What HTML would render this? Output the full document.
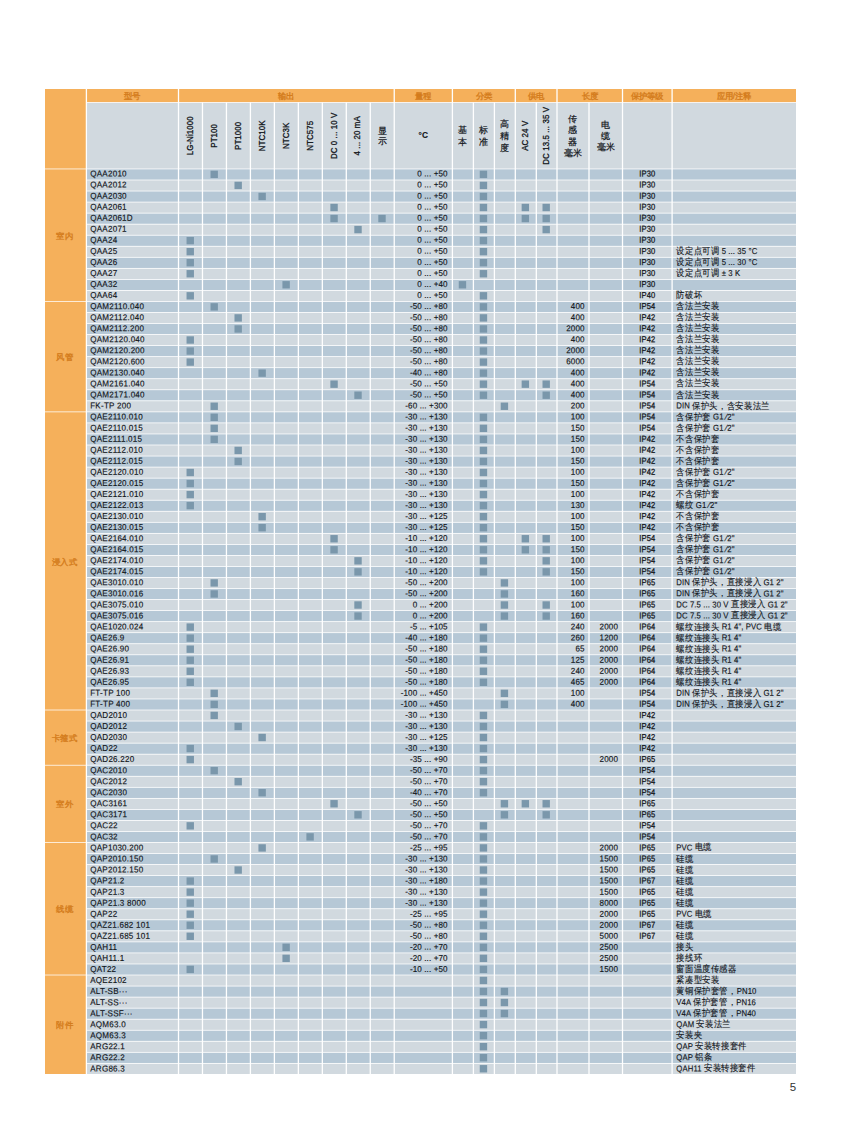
<!DOCTYPE html>
<html lang="zh"><head><meta charset="utf-8"><title>Sensor selection table</title>
<style>
html,body{margin:0;padding:0;background:#fff}
body{width:841px;height:1122px;overflow:hidden;font-family:"Liberation Sans",sans-serif}
svg{display:block;position:absolute;left:0;top:0}
text{font-family:"Liberation Sans",sans-serif;font-size:8.6px;fill:#11151a;stroke:#11151a;stroke-width:.14px;letter-spacing:.12px}
.m{letter-spacing:.25px}
.r{text-anchor:end}
.c{text-anchor:middle}
.b{font-weight:bold}
.i{stroke-width:.25px}
.n{white-space:pre}
.z{font-family:"Liberation Serif",serif;font-size:9.2px;stroke-width:.12px}
.h{fill:#d47c1c;stroke:#d47c1c;stroke-width:.35px;font-size:8.4px;text-anchor:middle;letter-spacing:.1px}
.v{font-size:8.3px;text-anchor:middle;stroke-width:.3px}
.k{font-family:"Liberation Serif",serif;font-size:8.6px;text-anchor:middle;stroke-width:.2px}
.pg{font-size:11.5px;fill:#333;stroke:none;text-anchor:end}
</style></head><body>
<svg width="841" height="1122" viewBox="0 0 841 1122">
<rect x="45" y="89" width="751" height="13.5" fill="#f5b05b"/>
<rect x="45" y="89" width="41.4" height="984.99" fill="#f5b05b"/>
<rect x="86.4" y="102.5" width="709.6" height="66.45" fill="#d1d9df"/>
<rect x="86.4" y="168.95" width="709.6" height="11.04" fill="#b6c8d6"/>
<rect x="86.4" y="179.99" width="709.6" height="11.04" fill="#d1d9df"/>
<rect x="86.4" y="191.03" width="709.6" height="11.04" fill="#b6c8d6"/>
<rect x="86.4" y="202.08" width="709.6" height="11.04" fill="#d1d9df"/>
<rect x="86.4" y="213.12" width="709.6" height="11.04" fill="#b6c8d6"/>
<rect x="86.4" y="224.16" width="709.6" height="11.04" fill="#d1d9df"/>
<rect x="86.4" y="235.2" width="709.6" height="11.04" fill="#b6c8d6"/>
<rect x="86.4" y="246.24" width="709.6" height="11.04" fill="#d1d9df"/>
<rect x="86.4" y="257.29" width="709.6" height="11.04" fill="#b6c8d6"/>
<rect x="86.4" y="268.33" width="709.6" height="11.04" fill="#d1d9df"/>
<rect x="86.4" y="279.37" width="709.6" height="11.04" fill="#b6c8d6"/>
<rect x="86.4" y="290.41" width="709.6" height="11.04" fill="#d1d9df"/>
<rect x="86.4" y="301.45" width="709.6" height="11.04" fill="#b6c8d6"/>
<rect x="86.4" y="312.5" width="709.6" height="11.04" fill="#d1d9df"/>
<rect x="86.4" y="323.54" width="709.6" height="11.04" fill="#b6c8d6"/>
<rect x="86.4" y="334.58" width="709.6" height="11.04" fill="#d1d9df"/>
<rect x="86.4" y="345.62" width="709.6" height="11.04" fill="#b6c8d6"/>
<rect x="86.4" y="356.66" width="709.6" height="11.04" fill="#d1d9df"/>
<rect x="86.4" y="367.71" width="709.6" height="11.04" fill="#b6c8d6"/>
<rect x="86.4" y="378.75" width="709.6" height="11.04" fill="#d1d9df"/>
<rect x="86.4" y="389.79" width="709.6" height="11.04" fill="#b6c8d6"/>
<rect x="86.4" y="400.83" width="709.6" height="11.04" fill="#d1d9df"/>
<rect x="86.4" y="411.87" width="709.6" height="11.04" fill="#b6c8d6"/>
<rect x="86.4" y="422.92" width="709.6" height="11.04" fill="#d1d9df"/>
<rect x="86.4" y="433.96" width="709.6" height="11.04" fill="#b6c8d6"/>
<rect x="86.4" y="445" width="709.6" height="11.04" fill="#d1d9df"/>
<rect x="86.4" y="456.04" width="709.6" height="11.04" fill="#b6c8d6"/>
<rect x="86.4" y="467.08" width="709.6" height="11.04" fill="#d1d9df"/>
<rect x="86.4" y="478.13" width="709.6" height="11.04" fill="#b6c8d6"/>
<rect x="86.4" y="489.17" width="709.6" height="11.04" fill="#d1d9df"/>
<rect x="86.4" y="500.21" width="709.6" height="11.04" fill="#b6c8d6"/>
<rect x="86.4" y="511.25" width="709.6" height="11.04" fill="#d1d9df"/>
<rect x="86.4" y="522.29" width="709.6" height="11.04" fill="#b6c8d6"/>
<rect x="86.4" y="533.34" width="709.6" height="11.04" fill="#d1d9df"/>
<rect x="86.4" y="544.38" width="709.6" height="11.04" fill="#b6c8d6"/>
<rect x="86.4" y="555.42" width="709.6" height="11.04" fill="#d1d9df"/>
<rect x="86.4" y="566.46" width="709.6" height="11.04" fill="#b6c8d6"/>
<rect x="86.4" y="577.5" width="709.6" height="11.04" fill="#d1d9df"/>
<rect x="86.4" y="588.55" width="709.6" height="11.04" fill="#b6c8d6"/>
<rect x="86.4" y="599.59" width="709.6" height="11.04" fill="#d1d9df"/>
<rect x="86.4" y="610.63" width="709.6" height="11.04" fill="#b6c8d6"/>
<rect x="86.4" y="621.67" width="709.6" height="11.04" fill="#d1d9df"/>
<rect x="86.4" y="632.71" width="709.6" height="11.04" fill="#b6c8d6"/>
<rect x="86.4" y="643.76" width="709.6" height="11.04" fill="#d1d9df"/>
<rect x="86.4" y="654.8" width="709.6" height="11.04" fill="#b6c8d6"/>
<rect x="86.4" y="665.84" width="709.6" height="11.04" fill="#d1d9df"/>
<rect x="86.4" y="676.88" width="709.6" height="11.04" fill="#b6c8d6"/>
<rect x="86.4" y="687.92" width="709.6" height="11.04" fill="#d1d9df"/>
<rect x="86.4" y="698.97" width="709.6" height="11.04" fill="#b6c8d6"/>
<rect x="86.4" y="710.01" width="709.6" height="11.04" fill="#d1d9df"/>
<rect x="86.4" y="721.05" width="709.6" height="11.04" fill="#b6c8d6"/>
<rect x="86.4" y="732.09" width="709.6" height="11.04" fill="#d1d9df"/>
<rect x="86.4" y="743.13" width="709.6" height="11.04" fill="#b6c8d6"/>
<rect x="86.4" y="754.18" width="709.6" height="11.04" fill="#d1d9df"/>
<rect x="86.4" y="765.22" width="709.6" height="11.04" fill="#b6c8d6"/>
<rect x="86.4" y="776.26" width="709.6" height="11.04" fill="#d1d9df"/>
<rect x="86.4" y="787.3" width="709.6" height="11.04" fill="#b6c8d6"/>
<rect x="86.4" y="798.34" width="709.6" height="11.04" fill="#d1d9df"/>
<rect x="86.4" y="809.39" width="709.6" height="11.04" fill="#b6c8d6"/>
<rect x="86.4" y="820.43" width="709.6" height="11.04" fill="#d1d9df"/>
<rect x="86.4" y="831.47" width="709.6" height="11.04" fill="#b6c8d6"/>
<rect x="86.4" y="842.51" width="709.6" height="11.04" fill="#d1d9df"/>
<rect x="86.4" y="853.55" width="709.6" height="11.04" fill="#b6c8d6"/>
<rect x="86.4" y="864.6" width="709.6" height="11.04" fill="#d1d9df"/>
<rect x="86.4" y="875.64" width="709.6" height="11.04" fill="#b6c8d6"/>
<rect x="86.4" y="886.68" width="709.6" height="11.04" fill="#d1d9df"/>
<rect x="86.4" y="897.72" width="709.6" height="11.04" fill="#b6c8d6"/>
<rect x="86.4" y="908.76" width="709.6" height="11.04" fill="#d1d9df"/>
<rect x="86.4" y="919.81" width="709.6" height="11.04" fill="#b6c8d6"/>
<rect x="86.4" y="930.85" width="709.6" height="11.04" fill="#d1d9df"/>
<rect x="86.4" y="941.89" width="709.6" height="11.04" fill="#b6c8d6"/>
<rect x="86.4" y="952.93" width="709.6" height="11.04" fill="#d1d9df"/>
<rect x="86.4" y="963.97" width="709.6" height="11.04" fill="#b6c8d6"/>
<rect x="86.4" y="975.02" width="709.6" height="11.04" fill="#d1d9df"/>
<rect x="86.4" y="986.06" width="709.6" height="11.04" fill="#b6c8d6"/>
<rect x="86.4" y="997.1" width="709.6" height="11.04" fill="#d1d9df"/>
<rect x="86.4" y="1008.14" width="709.6" height="11.04" fill="#b6c8d6"/>
<rect x="86.4" y="1019.18" width="709.6" height="11.04" fill="#d1d9df"/>
<rect x="86.4" y="1030.23" width="709.6" height="11.04" fill="#b6c8d6"/>
<rect x="86.4" y="1041.27" width="709.6" height="11.04" fill="#d1d9df"/>
<rect x="86.4" y="1052.31" width="709.6" height="11.04" fill="#b6c8d6"/>
<rect x="86.4" y="1063.35" width="709.6" height="10.64" fill="#d1d9df"/>
<g fill="#fff">
<rect x="86.4" y="102.15" width="709.6" height=".7"/>
<rect x="86.4" y="168.57" width="709.6" height=".75"/>
<rect x="86.4" y="179.62" width="709.6" height=".75"/>
<rect x="86.4" y="190.66" width="709.6" height=".75"/>
<rect x="86.4" y="201.7" width="709.6" height=".75"/>
<rect x="86.4" y="212.74" width="709.6" height=".75"/>
<rect x="86.4" y="223.78" width="709.6" height=".75"/>
<rect x="86.4" y="234.83" width="709.6" height=".75"/>
<rect x="86.4" y="245.87" width="709.6" height=".75"/>
<rect x="86.4" y="256.91" width="709.6" height=".75"/>
<rect x="86.4" y="267.95" width="709.6" height=".75"/>
<rect x="86.4" y="279" width="709.6" height=".75"/>
<rect x="86.4" y="290.04" width="709.6" height=".75"/>
<rect x="86.4" y="301.08" width="709.6" height=".75"/>
<rect x="86.4" y="312.12" width="709.6" height=".75"/>
<rect x="86.4" y="323.16" width="709.6" height=".75"/>
<rect x="86.4" y="334.2" width="709.6" height=".75"/>
<rect x="86.4" y="345.25" width="709.6" height=".75"/>
<rect x="86.4" y="356.29" width="709.6" height=".75"/>
<rect x="86.4" y="367.33" width="709.6" height=".75"/>
<rect x="86.4" y="378.37" width="709.6" height=".75"/>
<rect x="86.4" y="389.41" width="709.6" height=".75"/>
<rect x="86.4" y="400.46" width="709.6" height=".75"/>
<rect x="86.4" y="411.5" width="709.6" height=".75"/>
<rect x="86.4" y="422.54" width="709.6" height=".75"/>
<rect x="86.4" y="433.58" width="709.6" height=".75"/>
<rect x="86.4" y="444.62" width="709.6" height=".75"/>
<rect x="86.4" y="455.67" width="709.6" height=".75"/>
<rect x="86.4" y="466.71" width="709.6" height=".75"/>
<rect x="86.4" y="477.75" width="709.6" height=".75"/>
<rect x="86.4" y="488.79" width="709.6" height=".75"/>
<rect x="86.4" y="499.83" width="709.6" height=".75"/>
<rect x="86.4" y="510.88" width="709.6" height=".75"/>
<rect x="86.4" y="521.92" width="709.6" height=".75"/>
<rect x="86.4" y="532.96" width="709.6" height=".75"/>
<rect x="86.4" y="544" width="709.6" height=".75"/>
<rect x="86.4" y="555.04" width="709.6" height=".75"/>
<rect x="86.4" y="566.09" width="709.6" height=".75"/>
<rect x="86.4" y="577.13" width="709.6" height=".75"/>
<rect x="86.4" y="588.17" width="709.6" height=".75"/>
<rect x="86.4" y="599.21" width="709.6" height=".75"/>
<rect x="86.4" y="610.25" width="709.6" height=".75"/>
<rect x="86.4" y="621.3" width="709.6" height=".75"/>
<rect x="86.4" y="632.34" width="709.6" height=".75"/>
<rect x="86.4" y="643.38" width="709.6" height=".75"/>
<rect x="86.4" y="654.42" width="709.6" height=".75"/>
<rect x="86.4" y="665.46" width="709.6" height=".75"/>
<rect x="86.4" y="676.51" width="709.6" height=".75"/>
<rect x="86.4" y="687.55" width="709.6" height=".75"/>
<rect x="86.4" y="698.59" width="709.6" height=".75"/>
<rect x="86.4" y="709.63" width="709.6" height=".75"/>
<rect x="86.4" y="720.67" width="709.6" height=".75"/>
<rect x="86.4" y="731.72" width="709.6" height=".75"/>
<rect x="86.4" y="742.76" width="709.6" height=".75"/>
<rect x="86.4" y="753.8" width="709.6" height=".75"/>
<rect x="86.4" y="764.84" width="709.6" height=".75"/>
<rect x="86.4" y="775.88" width="709.6" height=".75"/>
<rect x="86.4" y="786.93" width="709.6" height=".75"/>
<rect x="86.4" y="797.97" width="709.6" height=".75"/>
<rect x="86.4" y="809.01" width="709.6" height=".75"/>
<rect x="86.4" y="820.05" width="709.6" height=".75"/>
<rect x="86.4" y="831.1" width="709.6" height=".75"/>
<rect x="86.4" y="842.14" width="709.6" height=".75"/>
<rect x="86.4" y="853.18" width="709.6" height=".75"/>
<rect x="86.4" y="864.22" width="709.6" height=".75"/>
<rect x="86.4" y="875.26" width="709.6" height=".75"/>
<rect x="86.4" y="886.31" width="709.6" height=".75"/>
<rect x="86.4" y="897.35" width="709.6" height=".75"/>
<rect x="86.4" y="908.39" width="709.6" height=".75"/>
<rect x="86.4" y="919.43" width="709.6" height=".75"/>
<rect x="86.4" y="930.47" width="709.6" height=".75"/>
<rect x="86.4" y="941.51" width="709.6" height=".75"/>
<rect x="86.4" y="952.56" width="709.6" height=".75"/>
<rect x="86.4" y="963.6" width="709.6" height=".75"/>
<rect x="86.4" y="974.64" width="709.6" height=".75"/>
<rect x="86.4" y="985.68" width="709.6" height=".75"/>
<rect x="86.4" y="996.72" width="709.6" height=".75"/>
<rect x="86.4" y="1007.77" width="709.6" height=".75"/>
<rect x="86.4" y="1018.81" width="709.6" height=".75"/>
<rect x="86.4" y="1029.85" width="709.6" height=".75"/>
<rect x="86.4" y="1040.89" width="709.6" height=".75"/>
<rect x="86.4" y="1051.93" width="709.6" height=".75"/>
<rect x="86.4" y="1062.98" width="709.6" height=".75"/>
<rect x="45" y="168.57" width="41.4" height=".75"/>
<rect x="45" y="301.08" width="41.4" height=".75"/>
<rect x="45" y="411.5" width="41.4" height=".75"/>
<rect x="45" y="709.63" width="41.4" height=".75"/>
<rect x="45" y="764.84" width="41.4" height=".75"/>
<rect x="45" y="842.14" width="41.4" height=".75"/>
<rect x="45" y="974.64" width="41.4" height=".75"/>
<rect x="85.75" y="89" width="1.3" height="985.39"/>
<rect x="177.85" y="89" width="1.3" height="985.39"/>
<rect x="393.58" y="89" width="1.3" height="985.39"/>
<rect x="451.75" y="89" width="1.3" height="985.39"/>
<rect x="514.65" y="89" width="1.3" height="985.39"/>
<rect x="556.35" y="89" width="1.3" height="985.39"/>
<rect x="621.85" y="89" width="1.3" height="985.39"/>
<rect x="671.45" y="89" width="1.3" height="985.39"/>
<rect x="201.82" y="102.5" width="1.3" height="971.89"/>
<rect x="225.79" y="102.5" width="1.3" height="971.89"/>
<rect x="249.76" y="102.5" width="1.3" height="971.89"/>
<rect x="273.73" y="102.5" width="1.3" height="971.89"/>
<rect x="297.7" y="102.5" width="1.3" height="971.89"/>
<rect x="321.67" y="102.5" width="1.3" height="971.89"/>
<rect x="345.64" y="102.5" width="1.3" height="971.89"/>
<rect x="369.61" y="102.5" width="1.3" height="971.89"/>
<rect x="472.75" y="102.5" width="1.3" height="971.89"/>
<rect x="493.75" y="102.5" width="1.3" height="971.89"/>
<rect x="535.65" y="102.5" width="1.3" height="971.89"/>
<rect x="588.35" y="102.5" width="1.3" height="971.89"/>
</g>
<text class="h" transform="translate(132.45 98.75) rotate(.03)">型号</text>
<text class="h" transform="translate(286.37 98.75) rotate(.03)">输出</text>
<text class="h" transform="translate(423.31 98.75) rotate(.03)">量程</text>
<text class="h" transform="translate(483.85 98.75) rotate(.03)">分类</text>
<text class="h" transform="translate(536.15 98.75) rotate(.03)">供电</text>
<text class="h" transform="translate(589.75 98.75) rotate(.03)">长度</text>
<text class="h" transform="translate(647.3 98.75) rotate(.03)">保护等级</text>
<text class="h" transform="translate(734.05 98.75) rotate(.03)">应用/注释</text>
<text class="v" transform="translate(192.69 135.8) rotate(-90) scale(.95 1)">LG-Ni1000</text>
<text class="v" transform="translate(216.65 135.8) rotate(-90) scale(.95 1)">PT100</text>
<text class="v" transform="translate(240.62 135.8) rotate(-90) scale(.95 1)">PT1000</text>
<text class="v" transform="translate(264.59 135.8) rotate(-90) scale(.95 1)">NTC10K</text>
<text class="v" transform="translate(288.56 135.8) rotate(-90) scale(.95 1)">NTC3K</text>
<text class="v" transform="translate(312.54 135.8) rotate(-90) scale(.95 1)">NTC575</text>
<text class="v" transform="translate(336.5 135.8) rotate(-90) scale(.95 1)">DC 0 ... 10 V</text>
<text class="v" transform="translate(360.47 135.8) rotate(-90) scale(.95 1)">4 ... 20 mA</text>
<text class="v" transform="translate(528 135.8) rotate(-90) scale(.95 1)">AC 24 V</text>
<text class="v" transform="translate(548.85 135.8) rotate(-90) scale(.95 1)">DC 13.5 ... 35 V</text>
<text class="k" x="382.25" y="133.6">显</text>
<text class="k" x="382.25" y="144.4">示</text>
<text class="k" x="462.9" y="133.4">基</text>
<text class="k" x="462.9" y="144.6">本</text>
<text class="k" x="483.9" y="133.4">标</text>
<text class="k" x="483.9" y="144.6">准</text>
<text class="k" x="504.85" y="127.2">高</text>
<text class="k" x="504.85" y="138.9">精</text>
<text class="k" x="504.85" y="150.6">度</text>
<text class="k" x="573" y="122">传</text>
<text class="k" x="573" y="133.3">感</text>
<text class="k" x="573" y="144.6">器</text>
<text class="k" x="573" y="155.9">毫米</text>
<text class="k" x="605.75" y="128.1">电</text>
<text class="k" x="605.75" y="139.2">缆</text>
<text class="k" x="605.75" y="150.3">毫米</text>
<text class="c b" x="423.31" y="137.7" style="font-size:8.3px">°C</text>
<text class="h" transform="translate(64.5 238.8) rotate(.03)">室内</text>
<text class="h" transform="translate(64.5 360.26) rotate(.03)">风管</text>
<text class="h" transform="translate(64.5 564.54) rotate(.03)">浸入式</text>
<text class="h" transform="translate(64.5 741.21) rotate(.03)">卡箍式</text>
<text class="h" transform="translate(64.5 807.47) rotate(.03)">室外</text>
<text class="h" transform="translate(64.5 912.36) rotate(.03)">线缆</text>
<text class="h" transform="translate(64.5 1028.3) rotate(.03)">附件</text>
<g fill="#7a97ab">
<rect x="210.5" y="170.67" width="7.4" height="7.4"/>
<rect x="479.75" y="170.67" width="7.4" height="7.4"/>
<rect x="234.48" y="181.71" width="7.4" height="7.4"/>
<rect x="479.75" y="181.71" width="7.4" height="7.4"/>
<rect x="258.44" y="192.75" width="7.4" height="7.4"/>
<rect x="479.75" y="192.75" width="7.4" height="7.4"/>
<rect x="330.35" y="203.8" width="7.4" height="7.4"/>
<rect x="479.75" y="203.8" width="7.4" height="7.4"/>
<rect x="521.65" y="203.8" width="7.4" height="7.4"/>
<rect x="542.5" y="203.8" width="7.4" height="7.4"/>
<rect x="330.35" y="214.84" width="7.4" height="7.4"/>
<rect x="378.3" y="214.84" width="7.4" height="7.4"/>
<rect x="479.75" y="214.84" width="7.4" height="7.4"/>
<rect x="521.65" y="214.84" width="7.4" height="7.4"/>
<rect x="542.5" y="214.84" width="7.4" height="7.4"/>
<rect x="354.32" y="225.88" width="7.4" height="7.4"/>
<rect x="479.75" y="225.88" width="7.4" height="7.4"/>
<rect x="542.5" y="225.88" width="7.4" height="7.4"/>
<rect x="186.54" y="236.92" width="7.4" height="7.4"/>
<rect x="479.75" y="236.92" width="7.4" height="7.4"/>
<rect x="186.54" y="247.97" width="7.4" height="7.4"/>
<rect x="479.75" y="247.97" width="7.4" height="7.4"/>
<rect x="186.54" y="259.01" width="7.4" height="7.4"/>
<rect x="479.75" y="259.01" width="7.4" height="7.4"/>
<rect x="186.54" y="270.05" width="7.4" height="7.4"/>
<rect x="479.75" y="270.05" width="7.4" height="7.4"/>
<rect x="282.42" y="281.09" width="7.4" height="7.4"/>
<rect x="458.75" y="281.09" width="7.4" height="7.4"/>
<rect x="186.54" y="292.13" width="7.4" height="7.4"/>
<rect x="479.75" y="292.13" width="7.4" height="7.4"/>
<rect x="210.5" y="303.18" width="7.4" height="7.4"/>
<rect x="479.75" y="303.18" width="7.4" height="7.4"/>
<rect x="234.48" y="314.22" width="7.4" height="7.4"/>
<rect x="479.75" y="314.22" width="7.4" height="7.4"/>
<rect x="234.48" y="325.26" width="7.4" height="7.4"/>
<rect x="479.75" y="325.26" width="7.4" height="7.4"/>
<rect x="186.54" y="336.3" width="7.4" height="7.4"/>
<rect x="479.75" y="336.3" width="7.4" height="7.4"/>
<rect x="186.54" y="347.34" width="7.4" height="7.4"/>
<rect x="479.75" y="347.34" width="7.4" height="7.4"/>
<rect x="186.54" y="358.38" width="7.4" height="7.4"/>
<rect x="479.75" y="358.38" width="7.4" height="7.4"/>
<rect x="258.44" y="369.43" width="7.4" height="7.4"/>
<rect x="479.75" y="369.43" width="7.4" height="7.4"/>
<rect x="330.35" y="380.47" width="7.4" height="7.4"/>
<rect x="479.75" y="380.47" width="7.4" height="7.4"/>
<rect x="521.65" y="380.47" width="7.4" height="7.4"/>
<rect x="542.5" y="380.47" width="7.4" height="7.4"/>
<rect x="354.32" y="391.51" width="7.4" height="7.4"/>
<rect x="479.75" y="391.51" width="7.4" height="7.4"/>
<rect x="542.5" y="391.51" width="7.4" height="7.4"/>
<rect x="210.5" y="402.55" width="7.4" height="7.4"/>
<rect x="500.7" y="402.55" width="7.4" height="7.4"/>
<rect x="210.5" y="413.59" width="7.4" height="7.4"/>
<rect x="479.75" y="413.59" width="7.4" height="7.4"/>
<rect x="210.5" y="424.64" width="7.4" height="7.4"/>
<rect x="479.75" y="424.64" width="7.4" height="7.4"/>
<rect x="210.5" y="435.68" width="7.4" height="7.4"/>
<rect x="479.75" y="435.68" width="7.4" height="7.4"/>
<rect x="234.48" y="446.72" width="7.4" height="7.4"/>
<rect x="479.75" y="446.72" width="7.4" height="7.4"/>
<rect x="234.48" y="457.76" width="7.4" height="7.4"/>
<rect x="479.75" y="457.76" width="7.4" height="7.4"/>
<rect x="186.54" y="468.8" width="7.4" height="7.4"/>
<rect x="479.75" y="468.8" width="7.4" height="7.4"/>
<rect x="186.54" y="479.85" width="7.4" height="7.4"/>
<rect x="479.75" y="479.85" width="7.4" height="7.4"/>
<rect x="186.54" y="490.89" width="7.4" height="7.4"/>
<rect x="479.75" y="490.89" width="7.4" height="7.4"/>
<rect x="186.54" y="501.93" width="7.4" height="7.4"/>
<rect x="479.75" y="501.93" width="7.4" height="7.4"/>
<rect x="258.44" y="512.97" width="7.4" height="7.4"/>
<rect x="479.75" y="512.97" width="7.4" height="7.4"/>
<rect x="258.44" y="524.01" width="7.4" height="7.4"/>
<rect x="479.75" y="524.01" width="7.4" height="7.4"/>
<rect x="330.35" y="535.06" width="7.4" height="7.4"/>
<rect x="479.75" y="535.06" width="7.4" height="7.4"/>
<rect x="521.65" y="535.06" width="7.4" height="7.4"/>
<rect x="542.5" y="535.06" width="7.4" height="7.4"/>
<rect x="330.35" y="546.1" width="7.4" height="7.4"/>
<rect x="479.75" y="546.1" width="7.4" height="7.4"/>
<rect x="521.65" y="546.1" width="7.4" height="7.4"/>
<rect x="542.5" y="546.1" width="7.4" height="7.4"/>
<rect x="354.32" y="557.14" width="7.4" height="7.4"/>
<rect x="479.75" y="557.14" width="7.4" height="7.4"/>
<rect x="542.5" y="557.14" width="7.4" height="7.4"/>
<rect x="354.32" y="568.18" width="7.4" height="7.4"/>
<rect x="479.75" y="568.18" width="7.4" height="7.4"/>
<rect x="542.5" y="568.18" width="7.4" height="7.4"/>
<rect x="210.5" y="579.22" width="7.4" height="7.4"/>
<rect x="500.7" y="579.22" width="7.4" height="7.4"/>
<rect x="210.5" y="590.27" width="7.4" height="7.4"/>
<rect x="500.7" y="590.27" width="7.4" height="7.4"/>
<rect x="354.32" y="601.31" width="7.4" height="7.4"/>
<rect x="500.7" y="601.31" width="7.4" height="7.4"/>
<rect x="542.5" y="601.31" width="7.4" height="7.4"/>
<rect x="354.32" y="612.35" width="7.4" height="7.4"/>
<rect x="500.7" y="612.35" width="7.4" height="7.4"/>
<rect x="542.5" y="612.35" width="7.4" height="7.4"/>
<rect x="186.54" y="623.39" width="7.4" height="7.4"/>
<rect x="479.75" y="623.39" width="7.4" height="7.4"/>
<rect x="186.54" y="634.43" width="7.4" height="7.4"/>
<rect x="479.75" y="634.43" width="7.4" height="7.4"/>
<rect x="186.54" y="645.48" width="7.4" height="7.4"/>
<rect x="479.75" y="645.48" width="7.4" height="7.4"/>
<rect x="186.54" y="656.52" width="7.4" height="7.4"/>
<rect x="479.75" y="656.52" width="7.4" height="7.4"/>
<rect x="186.54" y="667.56" width="7.4" height="7.4"/>
<rect x="479.75" y="667.56" width="7.4" height="7.4"/>
<rect x="186.54" y="678.6" width="7.4" height="7.4"/>
<rect x="479.75" y="678.6" width="7.4" height="7.4"/>
<rect x="210.5" y="689.64" width="7.4" height="7.4"/>
<rect x="500.7" y="689.64" width="7.4" height="7.4"/>
<rect x="210.5" y="700.69" width="7.4" height="7.4"/>
<rect x="500.7" y="700.69" width="7.4" height="7.4"/>
<rect x="210.5" y="711.73" width="7.4" height="7.4"/>
<rect x="479.75" y="711.73" width="7.4" height="7.4"/>
<rect x="234.48" y="722.77" width="7.4" height="7.4"/>
<rect x="479.75" y="722.77" width="7.4" height="7.4"/>
<rect x="258.44" y="733.81" width="7.4" height="7.4"/>
<rect x="479.75" y="733.81" width="7.4" height="7.4"/>
<rect x="186.54" y="744.85" width="7.4" height="7.4"/>
<rect x="479.75" y="744.85" width="7.4" height="7.4"/>
<rect x="186.54" y="755.9" width="7.4" height="7.4"/>
<rect x="479.75" y="755.9" width="7.4" height="7.4"/>
<rect x="210.5" y="766.94" width="7.4" height="7.4"/>
<rect x="479.75" y="766.94" width="7.4" height="7.4"/>
<rect x="234.48" y="777.98" width="7.4" height="7.4"/>
<rect x="479.75" y="777.98" width="7.4" height="7.4"/>
<rect x="258.44" y="789.02" width="7.4" height="7.4"/>
<rect x="479.75" y="789.02" width="7.4" height="7.4"/>
<rect x="330.35" y="800.06" width="7.4" height="7.4"/>
<rect x="500.7" y="800.06" width="7.4" height="7.4"/>
<rect x="521.65" y="800.06" width="7.4" height="7.4"/>
<rect x="542.5" y="800.06" width="7.4" height="7.4"/>
<rect x="354.32" y="811.11" width="7.4" height="7.4"/>
<rect x="500.7" y="811.11" width="7.4" height="7.4"/>
<rect x="542.5" y="811.11" width="7.4" height="7.4"/>
<rect x="186.54" y="822.15" width="7.4" height="7.4"/>
<rect x="479.75" y="822.15" width="7.4" height="7.4"/>
<rect x="306.39" y="833.19" width="7.4" height="7.4"/>
<rect x="479.75" y="833.19" width="7.4" height="7.4"/>
<rect x="258.44" y="844.23" width="7.4" height="7.4"/>
<rect x="479.75" y="844.23" width="7.4" height="7.4"/>
<rect x="210.5" y="855.27" width="7.4" height="7.4"/>
<rect x="479.75" y="855.27" width="7.4" height="7.4"/>
<rect x="234.48" y="866.32" width="7.4" height="7.4"/>
<rect x="479.75" y="866.32" width="7.4" height="7.4"/>
<rect x="186.54" y="877.36" width="7.4" height="7.4"/>
<rect x="479.75" y="877.36" width="7.4" height="7.4"/>
<rect x="186.54" y="888.4" width="7.4" height="7.4"/>
<rect x="479.75" y="888.4" width="7.4" height="7.4"/>
<rect x="186.54" y="899.44" width="7.4" height="7.4"/>
<rect x="479.75" y="899.44" width="7.4" height="7.4"/>
<rect x="186.54" y="910.49" width="7.4" height="7.4"/>
<rect x="479.75" y="910.49" width="7.4" height="7.4"/>
<rect x="186.54" y="921.53" width="7.4" height="7.4"/>
<rect x="479.75" y="921.53" width="7.4" height="7.4"/>
<rect x="186.54" y="932.57" width="7.4" height="7.4"/>
<rect x="479.75" y="932.57" width="7.4" height="7.4"/>
<rect x="282.42" y="943.61" width="7.4" height="7.4"/>
<rect x="479.75" y="943.61" width="7.4" height="7.4"/>
<rect x="282.42" y="954.65" width="7.4" height="7.4"/>
<rect x="479.75" y="954.65" width="7.4" height="7.4"/>
<rect x="186.54" y="965.69" width="7.4" height="7.4"/>
<rect x="479.75" y="965.69" width="7.4" height="7.4"/>
<rect x="479.75" y="976.74" width="7.4" height="7.4"/>
<rect x="479.75" y="987.78" width="7.4" height="7.4"/>
<rect x="500.7" y="987.78" width="7.4" height="7.4"/>
<rect x="479.75" y="998.82" width="7.4" height="7.4"/>
<rect x="500.7" y="998.82" width="7.4" height="7.4"/>
<rect x="479.75" y="1009.86" width="7.4" height="7.4"/>
<rect x="500.7" y="1009.86" width="7.4" height="7.4"/>
<rect x="479.75" y="1020.9" width="7.4" height="7.4"/>
<rect x="479.75" y="1031.95" width="7.4" height="7.4"/>
<rect x="479.75" y="1042.99" width="7.4" height="7.4"/>
<rect x="479.75" y="1054.03" width="7.4" height="7.4"/>
<rect x="479.75" y="1065.07" width="7.4" height="7.4"/>
</g>
<text class="m" transform="translate(90.2 176.55) rotate(.03) scale(0.94 1)">QAA2010</text>
<text class="r" transform="translate(447.7 176.55) rotate(.03) scale(0.94 1)">0 ... +50</text>
<text class="c i" transform="translate(647.3 176.55) rotate(.03) scale(0.88 1)">IP30</text>
<text class="m" transform="translate(90.2 187.6) rotate(.03) scale(0.94 1)">QAA2012</text>
<text class="r" transform="translate(447.7 187.6) rotate(.03) scale(0.94 1)">0 ... +50</text>
<text class="c i" transform="translate(647.3 187.6) rotate(.03) scale(0.88 1)">IP30</text>
<text class="m" transform="translate(90.2 198.65) rotate(.03) scale(0.94 1)">QAA2030</text>
<text class="r" transform="translate(447.7 198.65) rotate(.03) scale(0.94 1)">0 ... +50</text>
<text class="c i" transform="translate(647.3 198.65) rotate(.03) scale(0.88 1)">IP30</text>
<text class="m" transform="translate(90.2 209.69) rotate(.03) scale(0.94 1)">QAA2061</text>
<text class="r" transform="translate(447.7 209.69) rotate(.03) scale(0.94 1)">0 ... +50</text>
<text class="c i" transform="translate(647.3 209.69) rotate(.03) scale(0.88 1)">IP30</text>
<text class="m" transform="translate(90.2 220.74) rotate(.03) scale(0.94 1)">QAA2061D</text>
<text class="r" transform="translate(447.7 220.74) rotate(.03) scale(0.94 1)">0 ... +50</text>
<text class="c i" transform="translate(647.3 220.74) rotate(.03) scale(0.88 1)">IP30</text>
<text class="m" transform="translate(90.2 231.79) rotate(.03) scale(0.94 1)">QAA2071</text>
<text class="r" transform="translate(447.7 231.79) rotate(.03) scale(0.94 1)">0 ... +50</text>
<text class="c i" transform="translate(647.3 231.79) rotate(.03) scale(0.88 1)">IP30</text>
<text class="m" transform="translate(90.2 242.84) rotate(.03) scale(0.94 1)">QAA24</text>
<text class="r" transform="translate(447.7 242.84) rotate(.03) scale(0.94 1)">0 ... +50</text>
<text class="c i" transform="translate(647.3 242.84) rotate(.03) scale(0.88 1)">IP30</text>
<text class="m" transform="translate(90.2 253.88) rotate(.03) scale(0.94 1)">QAA25</text>
<text class="r" transform="translate(447.7 253.88) rotate(.03) scale(0.94 1)">0 ... +50</text>
<text class="c i" transform="translate(647.3 253.88) rotate(.03) scale(0.88 1)">IP30</text>
<text class="n" transform="translate(676.3 253.88) rotate(.03) scale(0.9 1)"><tspan class="z">设定点可调</tspan> 5 ... 35 °C</text>
<text class="m" transform="translate(90.2 264.93) rotate(.03) scale(0.94 1)">QAA26</text>
<text class="r" transform="translate(447.7 264.93) rotate(.03) scale(0.94 1)">0 ... +50</text>
<text class="c i" transform="translate(647.3 264.93) rotate(.03) scale(0.88 1)">IP30</text>
<text class="n" transform="translate(676.3 264.93) rotate(.03) scale(0.9 1)"><tspan class="z">设定点可调</tspan> 5 ... 30 °C</text>
<text class="m" transform="translate(90.2 275.98) rotate(.03) scale(0.94 1)">QAA27</text>
<text class="r" transform="translate(447.7 275.98) rotate(.03) scale(0.94 1)">0 ... +50</text>
<text class="c i" transform="translate(647.3 275.98) rotate(.03) scale(0.88 1)">IP30</text>
<text class="n" transform="translate(676.3 275.98) rotate(.03) scale(0.9 1)"><tspan class="z">设定点可调</tspan> ± 3 K</text>
<text class="m" transform="translate(90.2 287.03) rotate(.03) scale(0.94 1)">QAA32</text>
<text class="r" transform="translate(447.7 287.03) rotate(.03) scale(0.94 1)">0 ... +40</text>
<text class="c i" transform="translate(647.3 287.03) rotate(.03) scale(0.88 1)">IP30</text>
<text class="m" transform="translate(90.2 298.07) rotate(.03) scale(0.94 1)">QAA64</text>
<text class="r" transform="translate(447.7 298.07) rotate(.03) scale(0.94 1)">0 ... +50</text>
<text class="c i" transform="translate(647.3 298.07) rotate(.03) scale(0.88 1)">IP40</text>
<text class="n" transform="translate(676.3 298.07) rotate(.03) scale(0.9 1)"><tspan class="z">防破坏</tspan></text>
<text class="m" transform="translate(90.2 309.12) rotate(.03) scale(0.94 1)">QAM2110.040</text>
<text class="r" transform="translate(447.7 309.12) rotate(.03) scale(0.94 1)">-50 ... +80</text>
<text class="r" transform="translate(584.6 309.12) rotate(.03) scale(0.94 1)">400</text>
<text class="c i" transform="translate(647.3 309.12) rotate(.03) scale(0.88 1)">IP54</text>
<text class="n" transform="translate(676.3 309.12) rotate(.03) scale(0.9 1)"><tspan class="z">含法兰安装</tspan></text>
<text class="m" transform="translate(90.2 320.17) rotate(.03) scale(0.94 1)">QAM2112.040</text>
<text class="r" transform="translate(447.7 320.17) rotate(.03) scale(0.94 1)">-50 ... +80</text>
<text class="r" transform="translate(584.6 320.17) rotate(.03) scale(0.94 1)">400</text>
<text class="c i" transform="translate(647.3 320.17) rotate(.03) scale(0.88 1)">IP42</text>
<text class="n" transform="translate(676.3 320.17) rotate(.03) scale(0.9 1)"><tspan class="z">含法兰安装</tspan></text>
<text class="m" transform="translate(90.2 331.22) rotate(.03) scale(0.94 1)">QAM2112.200</text>
<text class="r" transform="translate(447.7 331.22) rotate(.03) scale(0.94 1)">-50 ... +80</text>
<text class="r" transform="translate(584.6 331.22) rotate(.03) scale(0.94 1)">2000</text>
<text class="c i" transform="translate(647.3 331.22) rotate(.03) scale(0.88 1)">IP42</text>
<text class="n" transform="translate(676.3 331.22) rotate(.03) scale(0.9 1)"><tspan class="z">含法兰安装</tspan></text>
<text class="m" transform="translate(90.2 342.26) rotate(.03) scale(0.94 1)">QAM2120.040</text>
<text class="r" transform="translate(447.7 342.26) rotate(.03) scale(0.94 1)">-50 ... +80</text>
<text class="r" transform="translate(584.6 342.26) rotate(.03) scale(0.94 1)">400</text>
<text class="c i" transform="translate(647.3 342.26) rotate(.03) scale(0.88 1)">IP42</text>
<text class="n" transform="translate(676.3 342.26) rotate(.03) scale(0.9 1)"><tspan class="z">含法兰安装</tspan></text>
<text class="m" transform="translate(90.2 353.31) rotate(.03) scale(0.94 1)">QAM2120.200</text>
<text class="r" transform="translate(447.7 353.31) rotate(.03) scale(0.94 1)">-50 ... +80</text>
<text class="r" transform="translate(584.6 353.31) rotate(.03) scale(0.94 1)">2000</text>
<text class="c i" transform="translate(647.3 353.31) rotate(.03) scale(0.88 1)">IP42</text>
<text class="n" transform="translate(676.3 353.31) rotate(.03) scale(0.9 1)"><tspan class="z">含法兰安装</tspan></text>
<text class="m" transform="translate(90.2 364.36) rotate(.03) scale(0.94 1)">QAM2120.600</text>
<text class="r" transform="translate(447.7 364.36) rotate(.03) scale(0.94 1)">-50 ... +80</text>
<text class="r" transform="translate(584.6 364.36) rotate(.03) scale(0.94 1)">6000</text>
<text class="c i" transform="translate(647.3 364.36) rotate(.03) scale(0.88 1)">IP42</text>
<text class="n" transform="translate(676.3 364.36) rotate(.03) scale(0.9 1)"><tspan class="z">含法兰安装</tspan></text>
<text class="m" transform="translate(90.2 375.41) rotate(.03) scale(0.94 1)">QAM2130.040</text>
<text class="r" transform="translate(447.7 375.41) rotate(.03) scale(0.94 1)">-40 ... +80</text>
<text class="r" transform="translate(584.6 375.41) rotate(.03) scale(0.94 1)">400</text>
<text class="c i" transform="translate(647.3 375.41) rotate(.03) scale(0.88 1)">IP42</text>
<text class="n" transform="translate(676.3 375.41) rotate(.03) scale(0.9 1)"><tspan class="z">含法兰安装</tspan></text>
<text class="m" transform="translate(90.2 386.45) rotate(.03) scale(0.94 1)">QAM2161.040</text>
<text class="r" transform="translate(447.7 386.45) rotate(.03) scale(0.94 1)">-50 ... +50</text>
<text class="r" transform="translate(584.6 386.45) rotate(.03) scale(0.94 1)">400</text>
<text class="c i" transform="translate(647.3 386.45) rotate(.03) scale(0.88 1)">IP54</text>
<text class="n" transform="translate(676.3 386.45) rotate(.03) scale(0.9 1)"><tspan class="z">含法兰安装</tspan></text>
<text class="m" transform="translate(90.2 397.5) rotate(.03) scale(0.94 1)">QAM2171.040</text>
<text class="r" transform="translate(447.7 397.5) rotate(.03) scale(0.94 1)">-50 ... +50</text>
<text class="r" transform="translate(584.6 397.5) rotate(.03) scale(0.94 1)">400</text>
<text class="c i" transform="translate(647.3 397.5) rotate(.03) scale(0.88 1)">IP54</text>
<text class="n" transform="translate(676.3 397.5) rotate(.03) scale(0.9 1)"><tspan class="z">含法兰安装</tspan></text>
<text class="m" transform="translate(90.2 408.55) rotate(.03) scale(0.94 1)">FK-TP 200</text>
<text class="r" transform="translate(447.7 408.55) rotate(.03) scale(0.94 1)">-60 ... +300</text>
<text class="r" transform="translate(584.6 408.55) rotate(.03) scale(0.94 1)">200</text>
<text class="c i" transform="translate(647.3 408.55) rotate(.03) scale(0.88 1)">IP54</text>
<text class="n" transform="translate(676.3 408.55) rotate(.03) scale(0.9 1)">DIN <tspan class="z">保护头，含安装法兰</tspan></text>
<text class="m" transform="translate(90.2 419.6) rotate(.03) scale(0.94 1)">QAE2110.010</text>
<text class="r" transform="translate(447.7 419.6) rotate(.03) scale(0.94 1)">-30 ... +130</text>
<text class="r" transform="translate(584.6 419.6) rotate(.03) scale(0.94 1)">100</text>
<text class="c i" transform="translate(647.3 419.6) rotate(.03) scale(0.88 1)">IP54</text>
<text class="n" transform="translate(676.3 419.6) rotate(.03) scale(0.9 1)"><tspan class="z">含保护套</tspan> G1 ⁄2&quot;</text>
<text class="m" transform="translate(90.2 430.64) rotate(.03) scale(0.94 1)">QAE2110.015</text>
<text class="r" transform="translate(447.7 430.64) rotate(.03) scale(0.94 1)">-30 ... +130</text>
<text class="r" transform="translate(584.6 430.64) rotate(.03) scale(0.94 1)">150</text>
<text class="c i" transform="translate(647.3 430.64) rotate(.03) scale(0.88 1)">IP54</text>
<text class="n" transform="translate(676.3 430.64) rotate(.03) scale(0.9 1)"><tspan class="z">含保护套</tspan> G1 ⁄2&quot;</text>
<text class="m" transform="translate(90.2 441.69) rotate(.03) scale(0.94 1)">QAE2111.015</text>
<text class="r" transform="translate(447.7 441.69) rotate(.03) scale(0.94 1)">-30 ... +130</text>
<text class="r" transform="translate(584.6 441.69) rotate(.03) scale(0.94 1)">150</text>
<text class="c i" transform="translate(647.3 441.69) rotate(.03) scale(0.88 1)">IP42</text>
<text class="n" transform="translate(676.3 441.69) rotate(.03) scale(0.9 1)"><tspan class="z">不含保护套</tspan></text>
<text class="m" transform="translate(90.2 452.74) rotate(.03) scale(0.94 1)">QAE2112.010</text>
<text class="r" transform="translate(447.7 452.74) rotate(.03) scale(0.94 1)">-30 ... +130</text>
<text class="r" transform="translate(584.6 452.74) rotate(.03) scale(0.94 1)">100</text>
<text class="c i" transform="translate(647.3 452.74) rotate(.03) scale(0.88 1)">IP42</text>
<text class="n" transform="translate(676.3 452.74) rotate(.03) scale(0.9 1)"><tspan class="z">不含保护套</tspan></text>
<text class="m" transform="translate(90.2 463.79) rotate(.03) scale(0.94 1)">QAE2112.015</text>
<text class="r" transform="translate(447.7 463.79) rotate(.03) scale(0.94 1)">-30 ... +130</text>
<text class="r" transform="translate(584.6 463.79) rotate(.03) scale(0.94 1)">150</text>
<text class="c i" transform="translate(647.3 463.79) rotate(.03) scale(0.88 1)">IP42</text>
<text class="n" transform="translate(676.3 463.79) rotate(.03) scale(0.9 1)"><tspan class="z">不含保护套</tspan></text>
<text class="m" transform="translate(90.2 474.83) rotate(.03) scale(0.94 1)">QAE2120.010</text>
<text class="r" transform="translate(447.7 474.83) rotate(.03) scale(0.94 1)">-30 ... +130</text>
<text class="r" transform="translate(584.6 474.83) rotate(.03) scale(0.94 1)">100</text>
<text class="c i" transform="translate(647.3 474.83) rotate(.03) scale(0.88 1)">IP42</text>
<text class="n" transform="translate(676.3 474.83) rotate(.03) scale(0.9 1)"><tspan class="z">含保护套</tspan> G1 ⁄2&quot;</text>
<text class="m" transform="translate(90.2 485.88) rotate(.03) scale(0.94 1)">QAE2120.015</text>
<text class="r" transform="translate(447.7 485.88) rotate(.03) scale(0.94 1)">-30 ... +130</text>
<text class="r" transform="translate(584.6 485.88) rotate(.03) scale(0.94 1)">150</text>
<text class="c i" transform="translate(647.3 485.88) rotate(.03) scale(0.88 1)">IP42</text>
<text class="n" transform="translate(676.3 485.88) rotate(.03) scale(0.9 1)"><tspan class="z">含保护套</tspan> G1 ⁄2&quot;</text>
<text class="m" transform="translate(90.2 496.93) rotate(.03) scale(0.94 1)">QAE2121.010</text>
<text class="r" transform="translate(447.7 496.93) rotate(.03) scale(0.94 1)">-30 ... +130</text>
<text class="r" transform="translate(584.6 496.93) rotate(.03) scale(0.94 1)">100</text>
<text class="c i" transform="translate(647.3 496.93) rotate(.03) scale(0.88 1)">IP42</text>
<text class="n" transform="translate(676.3 496.93) rotate(.03) scale(0.9 1)"><tspan class="z">不含保护套</tspan></text>
<text class="m" transform="translate(90.2 507.98) rotate(.03) scale(0.94 1)">QAE2122.013</text>
<text class="r" transform="translate(447.7 507.98) rotate(.03) scale(0.94 1)">-30 ... +130</text>
<text class="r" transform="translate(584.6 507.98) rotate(.03) scale(0.94 1)">130</text>
<text class="c i" transform="translate(647.3 507.98) rotate(.03) scale(0.88 1)">IP42</text>
<text class="n" transform="translate(676.3 507.98) rotate(.03) scale(0.9 1)"><tspan class="z">螺纹</tspan> G1 ⁄2&quot;</text>
<text class="m" transform="translate(90.2 519.02) rotate(.03) scale(0.94 1)">QAE2130.010</text>
<text class="r" transform="translate(447.7 519.02) rotate(.03) scale(0.94 1)">-30 ... +125</text>
<text class="r" transform="translate(584.6 519.02) rotate(.03) scale(0.94 1)">100</text>
<text class="c i" transform="translate(647.3 519.02) rotate(.03) scale(0.88 1)">IP42</text>
<text class="n" transform="translate(676.3 519.02) rotate(.03) scale(0.9 1)"><tspan class="z">不含保护套</tspan></text>
<text class="m" transform="translate(90.2 530.07) rotate(.03) scale(0.94 1)">QAE2130.015</text>
<text class="r" transform="translate(447.7 530.07) rotate(.03) scale(0.94 1)">-30 ... +125</text>
<text class="r" transform="translate(584.6 530.07) rotate(.03) scale(0.94 1)">150</text>
<text class="c i" transform="translate(647.3 530.07) rotate(.03) scale(0.88 1)">IP42</text>
<text class="n" transform="translate(676.3 530.07) rotate(.03) scale(0.9 1)"><tspan class="z">不含保护套</tspan></text>
<text class="m" transform="translate(90.2 541.12) rotate(.03) scale(0.94 1)">QAE2164.010</text>
<text class="r" transform="translate(447.7 541.12) rotate(.03) scale(0.94 1)">-10 ... +120</text>
<text class="r" transform="translate(584.6 541.12) rotate(.03) scale(0.94 1)">100</text>
<text class="c i" transform="translate(647.3 541.12) rotate(.03) scale(0.88 1)">IP54</text>
<text class="n" transform="translate(676.3 541.12) rotate(.03) scale(0.9 1)"><tspan class="z">含保护套</tspan> G1 ⁄2&quot;</text>
<text class="m" transform="translate(90.2 552.17) rotate(.03) scale(0.94 1)">QAE2164.015</text>
<text class="r" transform="translate(447.7 552.17) rotate(.03) scale(0.94 1)">-10 ... +120</text>
<text class="r" transform="translate(584.6 552.17) rotate(.03) scale(0.94 1)">150</text>
<text class="c i" transform="translate(647.3 552.17) rotate(.03) scale(0.88 1)">IP54</text>
<text class="n" transform="translate(676.3 552.17) rotate(.03) scale(0.9 1)"><tspan class="z">含保护套</tspan> G1 ⁄2&quot;</text>
<text class="m" transform="translate(90.2 563.21) rotate(.03) scale(0.94 1)">QAE2174.010</text>
<text class="r" transform="translate(447.7 563.21) rotate(.03) scale(0.94 1)">-10 ... +120</text>
<text class="r" transform="translate(584.6 563.21) rotate(.03) scale(0.94 1)">100</text>
<text class="c i" transform="translate(647.3 563.21) rotate(.03) scale(0.88 1)">IP54</text>
<text class="n" transform="translate(676.3 563.21) rotate(.03) scale(0.9 1)"><tspan class="z">含保护套</tspan> G1 ⁄2&quot;</text>
<text class="m" transform="translate(90.2 574.26) rotate(.03) scale(0.94 1)">QAE2174.015</text>
<text class="r" transform="translate(447.7 574.26) rotate(.03) scale(0.94 1)">-10 ... +120</text>
<text class="r" transform="translate(584.6 574.26) rotate(.03) scale(0.94 1)">150</text>
<text class="c i" transform="translate(647.3 574.26) rotate(.03) scale(0.88 1)">IP54</text>
<text class="n" transform="translate(676.3 574.26) rotate(.03) scale(0.9 1)"><tspan class="z">含保护套</tspan> G1 ⁄2&quot;</text>
<text class="m" transform="translate(90.2 585.31) rotate(.03) scale(0.94 1)">QAE3010.010</text>
<text class="r" transform="translate(447.7 585.31) rotate(.03) scale(0.94 1)">-50 ... +200</text>
<text class="r" transform="translate(584.6 585.31) rotate(.03) scale(0.94 1)">100</text>
<text class="c i" transform="translate(647.3 585.31) rotate(.03) scale(0.88 1)">IP65</text>
<text class="n" transform="translate(676.3 585.31) rotate(.03) scale(0.9 1)">DIN <tspan class="z">保护头，直接浸入</tspan> G1 2&quot;</text>
<text class="m" transform="translate(90.2 596.36) rotate(.03) scale(0.94 1)">QAE3010.016</text>
<text class="r" transform="translate(447.7 596.36) rotate(.03) scale(0.94 1)">-50 ... +200</text>
<text class="r" transform="translate(584.6 596.36) rotate(.03) scale(0.94 1)">160</text>
<text class="c i" transform="translate(647.3 596.36) rotate(.03) scale(0.88 1)">IP65</text>
<text class="n" transform="translate(676.3 596.36) rotate(.03) scale(0.9 1)">DIN <tspan class="z">保护头，直接浸入</tspan> G1 2&quot;</text>
<text class="m" transform="translate(90.2 607.4) rotate(.03) scale(0.94 1)">QAE3075.010</text>
<text class="r" transform="translate(447.7 607.4) rotate(.03) scale(0.94 1)">0 ... +200</text>
<text class="r" transform="translate(584.6 607.4) rotate(.03) scale(0.94 1)">100</text>
<text class="c i" transform="translate(647.3 607.4) rotate(.03) scale(0.88 1)">IP65</text>
<text class="n" transform="translate(676.3 607.4) rotate(.03) scale(0.9 1)">DC 7.5 ... 30 V <tspan class="z">直接浸入</tspan> G1 2&quot;</text>
<text class="m" transform="translate(90.2 618.45) rotate(.03) scale(0.94 1)">QAE3075.016</text>
<text class="r" transform="translate(447.7 618.45) rotate(.03) scale(0.94 1)">0 ... +200</text>
<text class="r" transform="translate(584.6 618.45) rotate(.03) scale(0.94 1)">160</text>
<text class="c i" transform="translate(647.3 618.45) rotate(.03) scale(0.88 1)">IP65</text>
<text class="n" transform="translate(676.3 618.45) rotate(.03) scale(0.9 1)">DC 7.5 ... 30 V <tspan class="z">直接浸入</tspan> G1 2&quot;</text>
<text class="m" transform="translate(90.2 629.5) rotate(.03) scale(0.94 1)">QAE1020.024</text>
<text class="r" transform="translate(447.7 629.5) rotate(.03) scale(0.94 1)">-5 ... +105</text>
<text class="r" transform="translate(584.6 629.5) rotate(.03) scale(0.94 1)">240</text>
<text class="r" transform="translate(618 629.5) rotate(.03) scale(0.94 1)">2000</text>
<text class="c i" transform="translate(647.3 629.5) rotate(.03) scale(0.88 1)">IP64</text>
<text class="n" transform="translate(676.3 629.5) rotate(.03) scale(0.9 1)"><tspan class="z">螺纹连接头</tspan> R1 4&quot;, PVC <tspan class="z">电缆</tspan></text>
<text class="m" transform="translate(90.2 640.55) rotate(.03) scale(0.94 1)">QAE26.9</text>
<text class="r" transform="translate(447.7 640.55) rotate(.03) scale(0.94 1)">-40 ... +180</text>
<text class="r" transform="translate(584.6 640.55) rotate(.03) scale(0.94 1)">260</text>
<text class="r" transform="translate(618 640.55) rotate(.03) scale(0.94 1)">1200</text>
<text class="c i" transform="translate(647.3 640.55) rotate(.03) scale(0.88 1)">IP64</text>
<text class="n" transform="translate(676.3 640.55) rotate(.03) scale(0.9 1)"><tspan class="z">螺纹连接头</tspan> R1 4&quot;</text>
<text class="m" transform="translate(90.2 651.59) rotate(.03) scale(0.94 1)">QAE26.90</text>
<text class="r" transform="translate(447.7 651.59) rotate(.03) scale(0.94 1)">-50 ... +180</text>
<text class="r" transform="translate(584.6 651.59) rotate(.03) scale(0.94 1)">65</text>
<text class="r" transform="translate(618 651.59) rotate(.03) scale(0.94 1)">2000</text>
<text class="c i" transform="translate(647.3 651.59) rotate(.03) scale(0.88 1)">IP64</text>
<text class="n" transform="translate(676.3 651.59) rotate(.03) scale(0.9 1)"><tspan class="z">螺纹连接头</tspan> R1 4&quot;</text>
<text class="m" transform="translate(90.2 662.64) rotate(.03) scale(0.94 1)">QAE26.91</text>
<text class="r" transform="translate(447.7 662.64) rotate(.03) scale(0.94 1)">-50 ... +180</text>
<text class="r" transform="translate(584.6 662.64) rotate(.03) scale(0.94 1)">125</text>
<text class="r" transform="translate(618 662.64) rotate(.03) scale(0.94 1)">2000</text>
<text class="c i" transform="translate(647.3 662.64) rotate(.03) scale(0.88 1)">IP64</text>
<text class="n" transform="translate(676.3 662.64) rotate(.03) scale(0.9 1)"><tspan class="z">螺纹连接头</tspan> R1 4&quot;</text>
<text class="m" transform="translate(90.2 673.69) rotate(.03) scale(0.94 1)">QAE26.93</text>
<text class="r" transform="translate(447.7 673.69) rotate(.03) scale(0.94 1)">-50 ... +180</text>
<text class="r" transform="translate(584.6 673.69) rotate(.03) scale(0.94 1)">240</text>
<text class="r" transform="translate(618 673.69) rotate(.03) scale(0.94 1)">2000</text>
<text class="c i" transform="translate(647.3 673.69) rotate(.03) scale(0.88 1)">IP64</text>
<text class="n" transform="translate(676.3 673.69) rotate(.03) scale(0.9 1)"><tspan class="z">螺纹连接头</tspan> R1 4&quot;</text>
<text class="m" transform="translate(90.2 684.74) rotate(.03) scale(0.94 1)">QAE26.95</text>
<text class="r" transform="translate(447.7 684.74) rotate(.03) scale(0.94 1)">-50 ... +180</text>
<text class="r" transform="translate(584.6 684.74) rotate(.03) scale(0.94 1)">465</text>
<text class="r" transform="translate(618 684.74) rotate(.03) scale(0.94 1)">2000</text>
<text class="c i" transform="translate(647.3 684.74) rotate(.03) scale(0.88 1)">IP64</text>
<text class="n" transform="translate(676.3 684.74) rotate(.03) scale(0.9 1)"><tspan class="z">螺纹连接头</tspan> R1 4&quot;</text>
<text class="m" transform="translate(90.2 695.79) rotate(.03) scale(0.94 1)">FT-TP 100</text>
<text class="r" transform="translate(447.7 695.79) rotate(.03) scale(0.94 1)">-100 ... +450</text>
<text class="r" transform="translate(584.6 695.79) rotate(.03) scale(0.94 1)">100</text>
<text class="c i" transform="translate(647.3 695.79) rotate(.03) scale(0.88 1)">IP54</text>
<text class="n" transform="translate(676.3 695.79) rotate(.03) scale(0.9 1)">DIN <tspan class="z">保护头，直接浸入</tspan> G1 2&quot;</text>
<text class="m" transform="translate(90.2 706.83) rotate(.03) scale(0.94 1)">FT-TP 400</text>
<text class="r" transform="translate(447.7 706.83) rotate(.03) scale(0.94 1)">-100 ... +450</text>
<text class="r" transform="translate(584.6 706.83) rotate(.03) scale(0.94 1)">400</text>
<text class="c i" transform="translate(647.3 706.83) rotate(.03) scale(0.88 1)">IP54</text>
<text class="n" transform="translate(676.3 706.83) rotate(.03) scale(0.9 1)">DIN <tspan class="z">保护头，直接浸入</tspan> G1 2&quot;</text>
<text class="m" transform="translate(90.2 717.88) rotate(.03) scale(0.94 1)">QAD2010</text>
<text class="r" transform="translate(447.7 717.88) rotate(.03) scale(0.94 1)">-30 ... +130</text>
<text class="c i" transform="translate(647.3 717.88) rotate(.03) scale(0.88 1)">IP42</text>
<text class="m" transform="translate(90.2 728.93) rotate(.03) scale(0.94 1)">QAD2012</text>
<text class="r" transform="translate(447.7 728.93) rotate(.03) scale(0.94 1)">-30 ... +130</text>
<text class="c i" transform="translate(647.3 728.93) rotate(.03) scale(0.88 1)">IP42</text>
<text class="m" transform="translate(90.2 739.98) rotate(.03) scale(0.94 1)">QAD2030</text>
<text class="r" transform="translate(447.7 739.98) rotate(.03) scale(0.94 1)">-30 ... +125</text>
<text class="c i" transform="translate(647.3 739.98) rotate(.03) scale(0.88 1)">IP42</text>
<text class="m" transform="translate(90.2 751.02) rotate(.03) scale(0.94 1)">QAD22</text>
<text class="r" transform="translate(447.7 751.02) rotate(.03) scale(0.94 1)">-30 ... +130</text>
<text class="c i" transform="translate(647.3 751.02) rotate(.03) scale(0.88 1)">IP42</text>
<text class="m" transform="translate(90.2 762.07) rotate(.03) scale(0.94 1)">QAD26.220</text>
<text class="r" transform="translate(447.7 762.07) rotate(.03) scale(0.94 1)">-35 ... +90</text>
<text class="r" transform="translate(618 762.07) rotate(.03) scale(0.94 1)">2000</text>
<text class="c i" transform="translate(647.3 762.07) rotate(.03) scale(0.88 1)">IP65</text>
<text class="m" transform="translate(90.2 773.12) rotate(.03) scale(0.94 1)">QAC2010</text>
<text class="r" transform="translate(447.7 773.12) rotate(.03) scale(0.94 1)">-50 ... +70</text>
<text class="c i" transform="translate(647.3 773.12) rotate(.03) scale(0.88 1)">IP54</text>
<text class="m" transform="translate(90.2 784.17) rotate(.03) scale(0.94 1)">QAC2012</text>
<text class="r" transform="translate(447.7 784.17) rotate(.03) scale(0.94 1)">-50 ... +70</text>
<text class="c i" transform="translate(647.3 784.17) rotate(.03) scale(0.88 1)">IP54</text>
<text class="m" transform="translate(90.2 795.21) rotate(.03) scale(0.94 1)">QAC2030</text>
<text class="r" transform="translate(447.7 795.21) rotate(.03) scale(0.94 1)">-40 ... +70</text>
<text class="c i" transform="translate(647.3 795.21) rotate(.03) scale(0.88 1)">IP54</text>
<text class="m" transform="translate(90.2 806.26) rotate(.03) scale(0.94 1)">QAC3161</text>
<text class="r" transform="translate(447.7 806.26) rotate(.03) scale(0.94 1)">-50 ... +50</text>
<text class="c i" transform="translate(647.3 806.26) rotate(.03) scale(0.88 1)">IP65</text>
<text class="m" transform="translate(90.2 817.31) rotate(.03) scale(0.94 1)">QAC3171</text>
<text class="r" transform="translate(447.7 817.31) rotate(.03) scale(0.94 1)">-50 ... +50</text>
<text class="c i" transform="translate(647.3 817.31) rotate(.03) scale(0.88 1)">IP65</text>
<text class="m" transform="translate(90.2 828.36) rotate(.03) scale(0.94 1)">QAC22</text>
<text class="r" transform="translate(447.7 828.36) rotate(.03) scale(0.94 1)">-50 ... +70</text>
<text class="c i" transform="translate(647.3 828.36) rotate(.03) scale(0.88 1)">IP54</text>
<text class="m" transform="translate(90.2 839.4) rotate(.03) scale(0.94 1)">QAC32</text>
<text class="r" transform="translate(447.7 839.4) rotate(.03) scale(0.94 1)">-50 ... +70</text>
<text class="c i" transform="translate(647.3 839.4) rotate(.03) scale(0.88 1)">IP54</text>
<text class="m" transform="translate(90.2 850.45) rotate(.03) scale(0.94 1)">QAP1030.200</text>
<text class="r" transform="translate(447.7 850.45) rotate(.03) scale(0.94 1)">-25 ... +95</text>
<text class="r" transform="translate(618 850.45) rotate(.03) scale(0.94 1)">2000</text>
<text class="c i" transform="translate(647.3 850.45) rotate(.03) scale(0.88 1)">IP65</text>
<text class="n" transform="translate(676.3 850.45) rotate(.03) scale(0.9 1)">PVC <tspan class="z">电缆</tspan></text>
<text class="m" transform="translate(90.2 861.5) rotate(.03) scale(0.94 1)">QAP2010.150</text>
<text class="r" transform="translate(447.7 861.5) rotate(.03) scale(0.94 1)">-30 ... +130</text>
<text class="r" transform="translate(618 861.5) rotate(.03) scale(0.94 1)">1500</text>
<text class="c i" transform="translate(647.3 861.5) rotate(.03) scale(0.88 1)">IP65</text>
<text class="n" transform="translate(676.3 861.5) rotate(.03) scale(0.9 1)"><tspan class="z">硅缆</tspan></text>
<text class="m" transform="translate(90.2 872.55) rotate(.03) scale(0.94 1)">QAP2012.150</text>
<text class="r" transform="translate(447.7 872.55) rotate(.03) scale(0.94 1)">-30 ... +130</text>
<text class="r" transform="translate(618 872.55) rotate(.03) scale(0.94 1)">1500</text>
<text class="c i" transform="translate(647.3 872.55) rotate(.03) scale(0.88 1)">IP65</text>
<text class="n" transform="translate(676.3 872.55) rotate(.03) scale(0.9 1)"><tspan class="z">硅缆</tspan></text>
<text class="m" transform="translate(90.2 883.59) rotate(.03) scale(0.94 1)">QAP21.2</text>
<text class="r" transform="translate(447.7 883.59) rotate(.03) scale(0.94 1)">-30 ... +180</text>
<text class="r" transform="translate(618 883.59) rotate(.03) scale(0.94 1)">1500</text>
<text class="c i" transform="translate(647.3 883.59) rotate(.03) scale(0.88 1)">IP67</text>
<text class="n" transform="translate(676.3 883.59) rotate(.03) scale(0.9 1)"><tspan class="z">硅缆</tspan></text>
<text class="m" transform="translate(90.2 894.64) rotate(.03) scale(0.94 1)">QAP21.3</text>
<text class="r" transform="translate(447.7 894.64) rotate(.03) scale(0.94 1)">-30 ... +130</text>
<text class="r" transform="translate(618 894.64) rotate(.03) scale(0.94 1)">1500</text>
<text class="c i" transform="translate(647.3 894.64) rotate(.03) scale(0.88 1)">IP65</text>
<text class="n" transform="translate(676.3 894.64) rotate(.03) scale(0.9 1)"><tspan class="z">硅缆</tspan></text>
<text class="m" transform="translate(90.2 905.69) rotate(.03) scale(0.94 1)">QAP21.3 8000</text>
<text class="r" transform="translate(447.7 905.69) rotate(.03) scale(0.94 1)">-30 ... +130</text>
<text class="r" transform="translate(618 905.69) rotate(.03) scale(0.94 1)">8000</text>
<text class="c i" transform="translate(647.3 905.69) rotate(.03) scale(0.88 1)">IP65</text>
<text class="n" transform="translate(676.3 905.69) rotate(.03) scale(0.9 1)"><tspan class="z">硅缆</tspan></text>
<text class="m" transform="translate(90.2 916.74) rotate(.03) scale(0.94 1)">QAP22</text>
<text class="r" transform="translate(447.7 916.74) rotate(.03) scale(0.94 1)">-25 ... +95</text>
<text class="r" transform="translate(618 916.74) rotate(.03) scale(0.94 1)">2000</text>
<text class="c i" transform="translate(647.3 916.74) rotate(.03) scale(0.88 1)">IP65</text>
<text class="n" transform="translate(676.3 916.74) rotate(.03) scale(0.9 1)">PVC <tspan class="z">电缆</tspan></text>
<text class="m" transform="translate(90.2 927.78) rotate(.03) scale(0.94 1)">QAZ21.682 101</text>
<text class="r" transform="translate(447.7 927.78) rotate(.03) scale(0.94 1)">-50 ... +80</text>
<text class="r" transform="translate(618 927.78) rotate(.03) scale(0.94 1)">2000</text>
<text class="c i" transform="translate(647.3 927.78) rotate(.03) scale(0.88 1)">IP67</text>
<text class="n" transform="translate(676.3 927.78) rotate(.03) scale(0.9 1)"><tspan class="z">硅缆</tspan></text>
<text class="m" transform="translate(90.2 938.83) rotate(.03) scale(0.94 1)">QAZ21.685 101</text>
<text class="r" transform="translate(447.7 938.83) rotate(.03) scale(0.94 1)">-50 ... +80</text>
<text class="r" transform="translate(618 938.83) rotate(.03) scale(0.94 1)">5000</text>
<text class="c i" transform="translate(647.3 938.83) rotate(.03) scale(0.88 1)">IP67</text>
<text class="n" transform="translate(676.3 938.83) rotate(.03) scale(0.9 1)"><tspan class="z">硅缆</tspan></text>
<text class="m" transform="translate(90.2 949.88) rotate(.03) scale(0.94 1)">QAH11</text>
<text class="r" transform="translate(447.7 949.88) rotate(.03) scale(0.94 1)">-20 ... +70</text>
<text class="r" transform="translate(618 949.88) rotate(.03) scale(0.94 1)">2500</text>
<text class="n" transform="translate(676.3 949.88) rotate(.03) scale(0.9 1)"><tspan class="z">接头</tspan></text>
<text class="m" transform="translate(90.2 960.93) rotate(.03) scale(0.94 1)">QAH11.1</text>
<text class="r" transform="translate(447.7 960.93) rotate(.03) scale(0.94 1)">-20 ... +70</text>
<text class="r" transform="translate(618 960.93) rotate(.03) scale(0.94 1)">2500</text>
<text class="n" transform="translate(676.3 960.93) rotate(.03) scale(0.9 1)"><tspan class="z">接线环</tspan></text>
<text class="m" transform="translate(90.2 971.97) rotate(.03) scale(0.94 1)">QAT22</text>
<text class="r" transform="translate(447.7 971.97) rotate(.03) scale(0.94 1)">-10 ... +50</text>
<text class="r" transform="translate(618 971.97) rotate(.03) scale(0.94 1)">1500</text>
<text class="n" transform="translate(676.3 971.97) rotate(.03) scale(0.9 1)"><tspan class="z">窗面温度传感器</tspan></text>
<text class="m" transform="translate(90.2 983.02) rotate(.03) scale(0.94 1)">AQE2102</text>
<text class="n" transform="translate(676.3 983.02) rotate(.03) scale(0.9 1)"><tspan class="z">紧凑型安装</tspan></text>
<text class="m" transform="translate(90.2 994.07) rotate(.03) scale(0.94 1)">ALT-SB···</text>
<text class="n" transform="translate(676.3 994.07) rotate(.03) scale(0.9 1)"><tspan class="z">黄铜保护套管，</tspan>PN10</text>
<text class="m" transform="translate(90.2 1005.12) rotate(.03) scale(0.94 1)">ALT-SS···</text>
<text class="n" transform="translate(676.3 1005.12) rotate(.03) scale(0.9 1)">V4A <tspan class="z">保护套管，</tspan>PN16</text>
<text class="m" transform="translate(90.2 1016.16) rotate(.03) scale(0.94 1)">ALT-SSF···</text>
<text class="n" transform="translate(676.3 1016.16) rotate(.03) scale(0.9 1)">V4A <tspan class="z">保护套管，</tspan>PN40</text>
<text class="m" transform="translate(90.2 1027.21) rotate(.03) scale(0.94 1)">AQM63.0</text>
<text class="n" transform="translate(676.3 1027.21) rotate(.03) scale(0.9 1)">QAM <tspan class="z">安装法兰</tspan></text>
<text class="m" transform="translate(90.2 1038.26) rotate(.03) scale(0.94 1)">AQM63.3</text>
<text class="n" transform="translate(676.3 1038.26) rotate(.03) scale(0.9 1)"><tspan class="z">安装夹</tspan></text>
<text class="m" transform="translate(90.2 1049.31) rotate(.03) scale(0.94 1)">ARG22.1</text>
<text class="n" transform="translate(676.3 1049.31) rotate(.03) scale(0.9 1)">QAP <tspan class="z">安装转接套件</tspan></text>
<text class="m" transform="translate(90.2 1060.35) rotate(.03) scale(0.94 1)">ARG22.2</text>
<text class="n" transform="translate(676.3 1060.35) rotate(.03) scale(0.9 1)">QAP <tspan class="z">铝条</tspan></text>
<text class="m" transform="translate(90.2 1071.4) rotate(.03) scale(0.94 1)">ARG86.3</text>
<text class="n" transform="translate(676.3 1071.4) rotate(.03) scale(0.9 1)">QAH11 <tspan class="z">安装转接套件</tspan></text>
<text class="pg" x="796.2" y="1091.2">5</text>
</svg></body></html>
